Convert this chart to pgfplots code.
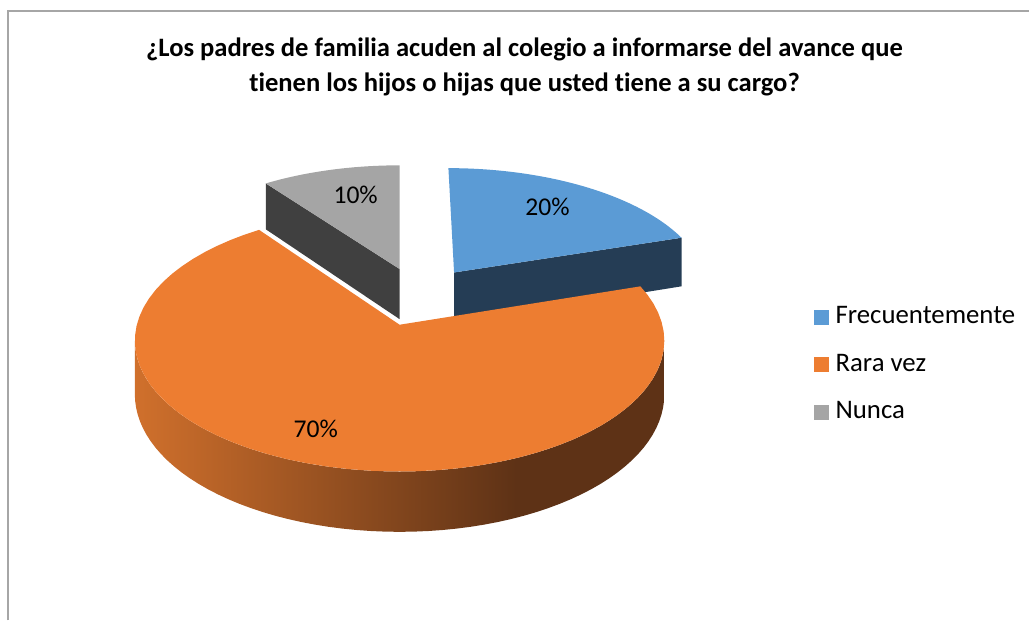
\documentclass[border=0pt]{standalone}
\usepackage{pgfplots}
\pgfplotsset{compat=1.18}
\usepackage{fontspec}
\setmainfont{Carlito}[Ligatures=NoCommon]

\definecolor{cblue}{HTML}{5B9BD5}
\definecolor{corange}{HTML}{ED7D31}
\definecolor{cgray}{HTML}{A5A5A5}
\definecolor{cnavy}{HTML}{253D55}
\definecolor{cdgray}{HTML}{404040}
\definecolor{wallA}{HTML}{D0702C}
\definecolor{wallB}{HTML}{5E3216}
\definecolor{frame}{HTML}{A6A6A6}
\pgfdeclarehorizontalshading{orwall}{100bp}{color(0bp)=(wallA); color(25bp)=(wallA); color(61bp)=(wallB); color(100bp)=(wallB)}

% data (percent)
\def\pA{20} % Frecuentemente
\def\pB{70} % Rara vez
\def\pC{10} % Nunca

\begin{document}
\begin{tikzpicture}
\tikzset{declare function={
  PX(\pu,\pv)=400+263*\pu/(1+0.122*\pv);
  PY(\pu,\pv,\ph)=325-(129*\pv+53*\ph)/(1+0.122*\pv);
  RR(\ps)=(\ps>=0)*(\ps<=60);
  AA(\ps,\pa,\pb)=\pa+(\pb-\pa)*min(max(\ps,0),60)/60;
  WA(\ps)=(\ps<=60)*(97+166*\ps/60)+(\ps>60)*(263-166*(\ps-61)/60);
}}
% slice angles (clockwise from 12 o'clock)
\pgfmathsetmacro\aB{3.6*\pA}
\pgfmathsetmacro\aC{3.6*(\pA+\pB)}
\pgfmathsetmacro\mA{\aB/2}
\pgfmathsetmacro\mB{(\aB+\aC)/2}
\pgfmathsetmacro\mC{(\aC+360)/2}
% exploded centres
\pgfmathsetmacro\cuA{0.074+0.245*sin(\mA)}
\pgfmathsetmacro\cvA{0.228+0.245*cos(\mA)}
\pgfmathsetmacro\cuB{0.074+0.24*sin(\mB)}
\pgfmathsetmacro\cvB{0.228+0.24*cos(\mB)}
\pgfmathsetmacro\cuC{0.074+0.24*sin(\mC)}
\pgfmathsetmacro\cvC{0.228+0.24*cos(\mC)}
% radial face of Frecuentemente at angle aB
\pgfmathsetmacro\fAxa{PX(\cuA,\cvA)}
\pgfmathsetmacro\fAya{PY(\cuA,\cvA,0)}
\pgfmathsetmacro\fAyd{PY(\cuA,\cvA,-1)}
\pgfmathsetmacro\fAxb{PX(\cuA+sin(\aB),\cvA+cos(\aB))}
\pgfmathsetmacro\fAyb{PY(\cuA+sin(\aB),\cvA+cos(\aB),0)}
\pgfmathsetmacro\fAyc{PY(\cuA+sin(\aB),\cvA+cos(\aB),-1)}
% radial face of Nunca at angle aC
\pgfmathsetmacro\fCxa{PX(\cuC,\cvC)}
\pgfmathsetmacro\fCya{PY(\cuC,\cvC,0)}
\pgfmathsetmacro\fCyd{PY(\cuC,\cvC,-1)}
\pgfmathsetmacro\fCxb{PX(\cuC+sin(\aC),\cvC+cos(\aC))}
\pgfmathsetmacro\fCyb{PY(\cuC+sin(\aC),\cvC+cos(\aC),0)}
\pgfmathsetmacro\fCyc{PY(\cuC+sin(\aC),\cvC+cos(\aC),-1)}

\newcommand\wedgetop[5]{%
 \addplot[#5, draw=none, forget plot, samples at={-1,0,...,61}, variable=\t]
  ({PX(#3+RR(\t)*sin(AA(\t,#1,#2)), #4+RR(\t)*cos(AA(\t,#1,#2)))},
   {PY(#3+RR(\t)*sin(AA(\t,#1,#2)), #4+RR(\t)*cos(AA(\t,#1,#2)), 0)});
}

\begin{axis}[
  scale only axis, width=515pt, height=310.5pt,
  xmin=0, xmax=1030, ymin=0, ymax=621, y dir=reverse,
  hide axis, clip=false,
  legend image code/.code={\fill[#1] (0pt,-3.75pt) rectangle (7.5pt,3.75pt);},
  legend style={at={(axis cs:814,365)}, anchor=west, draw=none, fill=none,
    inner sep=0pt, font=\fontsize{13.4}{15}\selectfont, row sep=11.3pt,
    column sep=3.5pt,
    nodes={inner sep=0pt, text height=9.5pt, text depth=2.9pt}},
  legend cell align=left,
]
\path (axis cs:0,0) rectangle (axis cs:1030,621);
\draw[frame, line width=1pt] (axis cs:8,621) -- (axis cs:8,11) -- (axis cs:1030,11);

\addlegendimage{fill=cblue, draw=none}
\addlegendentry{Frecuentemente}
\addlegendimage{fill=corange, draw=none}
\addlegendentry{Rara vez}
\addlegendimage{fill=cgray, draw=none}
\addlegendentry{Nunca}

% Nunca
\addplot[fill=cdgray, draw=none, forget plot] coordinates
  {(\fCxa,\fCya) (\fCxb,\fCyb) (\fCxb,\fCyc) (\fCxa,\fCyd)} -- cycle;
\wedgetop{\aC}{360}{\cuC}{\cvC}{fill=cgray}
% Frecuentemente
\addplot[fill=cnavy, draw=none, forget plot] coordinates
  {(\fAxa,\fAya) (\fAxb,\fAyb) (\fAxb,\fAyc) (\fAxa,\fAyd)} -- cycle;
\wedgetop{0}{\aB}{\cuA}{\cvA}{fill=cblue}
% Rara vez: outer wall then top
\addplot[forget plot, draw=none, shade, shading=orwall, samples at={0,...,121}, variable=\t]
 ({PX(\cuB+sin(WA(\t)), \cvB+cos(WA(\t)))},
  {PY(\cuB+sin(WA(\t)), \cvB+cos(WA(\t)), (\t<=60)-1)});
\wedgetop{\aB}{\aC}{\cuB}{\cvB}{fill=corange}

% labels
\node[font=\fontsize{12.8}{15}\selectfont] at (axis cs:356,195) {10\%};
\node[font=\fontsize{12.8}{15}\selectfont] at (axis cs:548,207) {20\%};
\node[font=\fontsize{12.8}{15}\selectfont] at (axis cs:316,429) {70\%};
% title
\node[align=center, font=\fontsize{13.3}{17.5}\selectfont\bfseries] at (axis cs:525,67)
  {¿Los padres de familia acuden al colegio a informarse del avance que\\tienen los hijos o hijas que usted tiene a su cargo?};
\end{axis}
\end{tikzpicture}
\end{document}
